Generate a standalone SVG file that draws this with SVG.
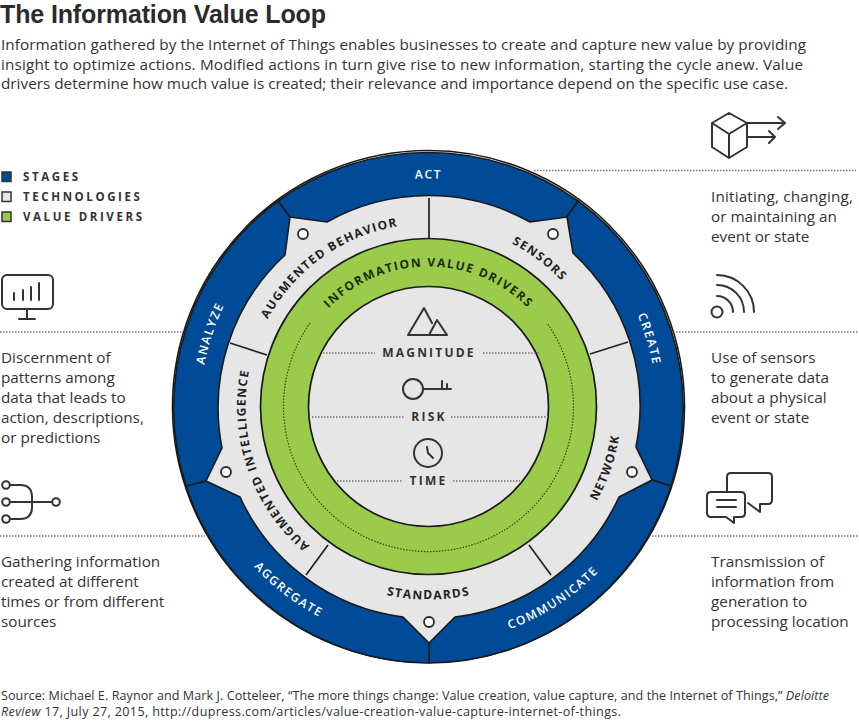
<svg xmlns="http://www.w3.org/2000/svg" width="859" height="721" viewBox="0 0 859 721">
<style>
text{font-family:"Open Sans","Noto Sans","Liberation Sans",sans-serif;fill:#333}
.title{font-family:"Liberation Sans","Open Sans",sans-serif;font-size:25px;font-weight:700;fill:#2b2b2b}
.body{font-size:15.3px}
.foot{font-size:12.6px}
.leg{font-size:11.5px;font-weight:700;letter-spacing:2.6px}
.blue{font-size:12px;font-weight:600;letter-spacing:1.6px;fill:#fff}
.gray{font-size:12px;font-weight:700;letter-spacing:1.4px;fill:#222}
.green{font-size:12px;font-weight:700;letter-spacing:1.6px;fill:#1c2a0a}
.drv{font-size:12px;font-weight:700;letter-spacing:2.2px;text-anchor:middle}
.seg{fill:#004b97;stroke:#1a1a1a;stroke-width:1.6;stroke-linejoin:round}
.dot{stroke:#777;stroke-width:1.4;stroke-dasharray:1.5 1.5;fill:none}
.ln{stroke:#222;stroke-width:1.7;fill:none}
.ic{stroke:#333;stroke-width:2;fill:none;stroke-linecap:round;stroke-linejoin:round}
</style>
<defs>
<path id="c228" d="M200.500 406.500A228 228 0 0 1 656.500 406.500"/>
<path id="c237" d="M191.500 406.500A237 237 0 0 0 665.500 406.500"/>
<path id="c183" d="M245.500 406.500A183 183 0 0 1 611.500 406.500"/>
<path id="c193" d="M235.500 406.500A193 193 0 0 0 621.500 406.500"/>
<path id="c140" d="M288.500 406.500A140 140 0 0 1 568.500 406.500"/>
</defs>

<g id="header">
<text class="title" x="0" y="23" textLength="326">The Information Value Loop</text>
<text class="body" x="1" y="49.500" textLength="805">Information gathered by the Internet of Things enables businesses to create and capture new value by providing</text>
<text class="body" x="1" y="69.500" textLength="802">insight to optimize actions. Modified actions in turn give rise to new information, starting the cycle anew. Value</text>
<text class="body" x="1" y="89" textLength="787">drivers determine how much value is created; their relevance and importance depend on the specific use case.</text>
</g>

<g id="legend">
<rect x="2" y="172" width="9" height="9.500" fill="#004b97" stroke="#333" stroke-width="1.500"/>
<rect x="2" y="192" width="9" height="9.500" fill="#e6e6e6" stroke="#333" stroke-width="1.500"/>
<rect x="2" y="212" width="9" height="9.500" fill="#9acb4a" stroke="#333" stroke-width="1.500"/>
<text class="leg" x="23" y="181">STAGES</text>
<text class="leg" x="23" y="201">TECHNOLOGIES</text>
<text class="leg" x="23" y="221">VALUE DRIVERS</text>
</g>

<g id="ring">
<circle cx="428.500" cy="406.500" r="236" fill="#e6e6e6"/>
<circle cx="428.500" cy="406.500" r="256" fill="none" stroke="#1a1a1a" stroke-width="1.600"/>
<g id="stage-act"><path class="seg" d="M278 201L290 217L327 222A208 208 0 0 1 530 222L567 217L578 201A256 256 0 0 0 278 201Z"/>
<text class="blue" text-anchor="middle"><textPath href="#c228" startOffset="50%">ACT</textPath></text></g>
<g id="stage-create"><path class="seg" d="M578 201L567 217L573 253A208 208 0 0 1 636 447L652 480L671 486A256 256 0 0 0 578 201Z"/>
<text class="blue" text-anchor="middle" transform="rotate(73 428.500 406.500)"><textPath href="#c228" startOffset="50%">CREATE</textPath></text></g>
<g id="stage-communicate"><path class="seg" d="M671 486L652 480L619 497A208 208 0 0 1 455 617L429 643L429 663A256 256 0 0 0 671 486Z"/>
<text class="blue" text-anchor="middle" transform="rotate(-33 428.500 406.500)"><textPath href="#c237" startOffset="50%">COMMUNICATE</textPath></text></g>
<g id="stage-aggregate"><path class="seg" d="M429 663L429 643L403 617A208 208 0 0 1 240 497L206 481L186 486A256 256 0 0 0 429 663Z"/>
<text class="blue" text-anchor="middle" transform="rotate(37.300 428.500 406.500)"><textPath href="#c237" startOffset="50%">AGGREGATE</textPath></text></g>
<g id="stage-analyze"><path class="seg" d="M186 486L206 481L222 448A208 208 0 0 1 285 255L290 217L278 201A256 256 0 0 0 186 486Z"/>
<text class="blue" text-anchor="middle" transform="rotate(-71.500 428.500 406.500)"><textPath href="#c228" startOffset="50%">ANALYZE</textPath></text></g>
</g>

<g id="technologies">
<path class="ln" d="M429 198V238M590 354L628 342M230 343L267 355M306 575L328 545M529 545L551 575"/>
<g fill="#fff" stroke="#2a2a2a" stroke-width="1.800">
<circle cx="303" cy="234" r="5"/><circle cx="553" cy="234" r="5"/><circle cx="226" cy="472" r="5"/><circle cx="632" cy="472" r="5"/><circle cx="429" cy="622" r="5"/>
</g>
<g id="tech-behavior"><text class="gray" text-anchor="middle" transform="rotate(-35.500 428.500 406.500)"><textPath href="#c183" startOffset="50%">AUGMENTED BEHAVIOR</textPath></text></g>
<g id="tech-sensors"><text class="gray" text-anchor="middle" transform="rotate(37 428.500 406.500)"><textPath href="#c183" startOffset="50%">SENSORS</textPath></text></g>
<g id="tech-network"><text class="gray" text-anchor="middle" transform="rotate(-71 428.500 406.500)"><textPath href="#c193" startOffset="50%">NETWORK</textPath></text></g>
<g id="tech-standards"><text class="gray" text-anchor="middle"><textPath href="#c193" startOffset="50%">STANDARDS</textPath></text></g>
<g id="tech-intelligence"><text class="gray" text-anchor="middle" transform="rotate(-109 428.500 406.500)"><textPath href="#c183" startOffset="50%">AUGMENTED INTELLIGENCE</textPath></text></g>
</g>

<g id="drivers">
<circle cx="428.500" cy="406.500" r="144" fill="none" stroke="#9acb4a" stroke-width="48"/>
<circle cx="428.500" cy="406.500" r="168" fill="none" stroke="#1a1a1a" stroke-width="1.700"/>
<circle cx="428.500" cy="406.500" r="120" fill="none" stroke="#1a1a1a" stroke-width="1.700"/>
<path d="M310 323A145 145 0 1 0 547 323" fill="none" stroke="#2f4a12" stroke-width="1.200" stroke-dasharray="1.500 1.500"/>
<text class="green" text-anchor="middle"><textPath href="#c140" startOffset="50%">INFORMATION VALUE DRIVERS</textPath></text>
</g>

<g id="connectors">
<path class="dot" d="M534 170.500H856M676 332H859M0 332H182M0 536H205M652 536H859M323 353H375M483 353H540M312 417H405M451 417H548M337 481H402M453 481H520"/>
</g>

<g id="magnitude">
<path class="ic" d="M408 335L424 308L432 323M429 335L437 320L447 335ZM408 335H447"/>
<text class="drv" x="429" y="357">MAGNITUDE</text>
</g>
<g id="risk">
<circle class="ic" cx="413" cy="389" r="10"/>
<path class="ic" d="M423 389H451M442 381V389M447 384V389"/>
<text class="drv" x="429" y="421">RISK</text>
</g>
<g id="time">
<circle class="ic" cx="428" cy="453" r="14"/>
<path class="ic" d="M427 447L428 453L433 458"/>
<text class="drv" x="428.500" y="485">TIME</text>
</g>

<g id="act-desc">
<path class="ic" d="M729 113L712 123V147L729 158L747 147V123ZM712 123L729 134L747 123M729 134V158M747 123H785M778 117L785 123L778 129M747 137H775M769 131L775 137L769 143"/>
<text class="body" x="711" y="202" textLength="142">Initiating, changing,</text>
<text class="body" x="711" y="222">or maintaining an</text>
<text class="body" x="711" y="242">event or state</text>
</g>
<g id="create-desc">
<circle class="ic" cx="717" cy="312" r="5.500"/>
<path class="ic" d="M717 296A16 16 0 0 1 733 312M717 285A27 27 0 0 1 744 312M717 275A37 37 0 0 1 754 312"/>
<text class="body" x="711" y="363">Use of sensors</text>
<text class="body" x="711" y="383">to generate data</text>
<text class="body" x="711" y="403">about a physical</text>
<text class="body" x="711" y="423">event or state</text>
</g>
<g id="communicate-desc">
<path class="ic" d="M727 491V477Q727 473 731 473H768Q772 473 772 477V500Q772 504 768 504H760V512L748 503"/>
<path class="ic" d="M711 492H741Q745 492 745 496V513Q745 517 741 517H734V523L726 517H711Q707 517 707 513V496Q707 492 711 492ZM717 500H736M717 507H736"/>
<text class="body" x="711" y="567">Transmission of</text>
<text class="body" x="711" y="587">information from</text>
<text class="body" x="711" y="607">generation to</text>
<text class="body" x="711" y="627">processing location</text>
</g>
<g id="analyze-desc">
<rect class="ic" x="2" y="275" width="51" height="34" rx="5"/>
<path class="ic" d="M14 293V300M23 290V300M31 287V300M39 283V300M27 309V319M19 319H35"/>
<text class="body" x="1" y="363">Discernment of</text>
<text class="body" x="1" y="383">patterns among</text>
<text class="body" x="1" y="403">data that leads to</text>
<text class="body" x="1" y="423">action, descriptions,</text>
<text class="body" x="1" y="443">or predictions</text>
</g>
<g id="aggregate-desc">
<path class="ic" d="M10 485H20Q32 485 32 497V507Q32 519 20 519H10M10 502H52"/>
<circle class="ic" cx="6" cy="485" r="3.800"/><circle class="ic" cx="6" cy="502" r="3.800"/><circle class="ic" cx="6" cy="519" r="3.800"/><circle class="ic" cx="56" cy="502" r="3.800"/>
<text class="body" x="1" y="567">Gathering information</text>
<text class="body" x="1" y="587">created at different</text>
<text class="body" x="1" y="607">times or from different</text>
<text class="body" x="1" y="627">sources</text>
</g>

<g id="footer">
<text class="foot" x="1" y="699.500" textLength="828">Source: Michael E. Raynor and Mark J. Cotteleer, “The more things change: Value creation, value capture, and the Internet of Things,” <tspan font-style="italic">Deloitte</tspan></text>
<text class="foot" x="1" y="716" textLength="620"><tspan font-style="italic">Review</tspan> 17, July 27, 2015, http://dupress.com/articles/value-creation-value-capture-internet-of-things.</text>
</g>
</svg>
